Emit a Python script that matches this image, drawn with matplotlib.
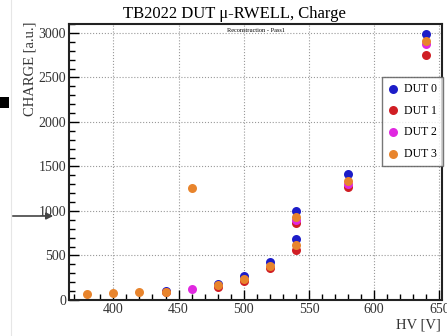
import matplotlib
matplotlib.use("Agg")
import matplotlib.pyplot as plt
from matplotlib.ticker import MultipleLocator
from matplotlib.patches import Rectangle

plt.rcParams['font.family'] = ['Liberation Serif', 'DejaVu Serif']

# Charge vs HV for each DUT
hv_dut0 = [440, 480, 500, 520, 540, 540, 580, 640]
q_dut0 = [105, 185, 265, 425, 1000, 680, 1420, 2985]
hv_dut1 = [440, 480, 500, 520, 540, 540, 580, 640]
q_dut1 = [90, 145, 215, 355, 870, 560, 1270, 2750]
hv_dut2 = [460, 540, 580, 640]
q_dut2 = [120, 900, 1300, 2880]
hv_dut3 = [380, 400, 420, 440, 460, 480, 500, 520, 540, 540, 580, 640]
q_dut3 = [70, 80, 85, 95, 1260, 165, 240, 385, 930, 620, 1340, 2910]

labels = ["DUT 0", "DUT 1", "DUT 2", "DUT 3"]
colors = ["#1c1cc8", "#d01e24", "#e028e0", "#e8842c"]
series = [(hv_dut0, q_dut0), (hv_dut1, q_dut1), (hv_dut2, q_dut2), (hv_dut3, q_dut3)]

fig = plt.figure(figsize=(4.47, 3.36), dpi=100)
ax = fig.add_axes([69/447, 36/336, (442-69)/447, (300-24)/336])

for (x, y), lab, c in zip(series, labels, colors):
    ax.scatter(x, y, s=42, color=c, label=lab, zorder=3, linewidths=0)

ax.set_xlim(366, 652)
ax.set_ylim(0, 3100)
ax.xaxis.set_major_locator(MultipleLocator(50))
ax.xaxis.set_minor_locator(MultipleLocator(10))
ax.yaxis.set_major_locator(MultipleLocator(500))
ax.yaxis.set_minor_locator(MultipleLocator(100))
ax.tick_params(which='both', direction='in', top=False, right=False, labelsize=10, pad=2,
               labelcolor='#333333')
ax.tick_params(which='major', length=7, width=1)
ax.tick_params(which='minor', length=4, width=1)
ax.grid(True, which='major', linestyle=':', color='#999999', linewidth=0.8)
for sp in ax.spines.values():
    sp.set_linewidth(1.5)
    sp.set_color('#222222')

fig.text(0.525, 0.957, "TB2022 DUT \u03bc-RWELL, Charge", ha='center', va='center', fontsize=12)
ax.text(0.5, 0.985, "Reconstruction - Pass1", transform=ax.transAxes, ha='center', va='top', fontsize=4.5)
fig.text(30/447, 1-22/336, "CHARGE [a.u.]", rotation=90, ha='center', va='top', fontsize=10.5,
         color='#333333')
fig.text(441/447, 1-325/336, "HV [V]", ha='right', va='center', fontsize=10.5, color='#333333')

leg = ax.legend(loc='upper right', bbox_to_anchor=(443/447, 1-77/336), bbox_transform=fig.transFigure,
                fontsize=8.5, frameon=True, fancybox=False, edgecolor='#555555',
                handletextpad=0.5, handlelength=0.9, borderpad=0.5, labelspacing=0.82,
                borderaxespad=0, scatterpoints=1)
leg.get_frame().set_linewidth(1.0)

# Marks at the left margin
fig.patches.append(Rectangle((0, 1-108/336), 9/447, 11/336, transform=fig.transFigure,
                             facecolor='black', edgecolor='none'))
fig.add_artist(plt.Line2D([11/447, 11/447], [0, 1], transform=fig.transFigure, color='#e6e6e6', linewidth=0.8))
ax.annotate("", xy=(56/447, 1-216/336), xytext=(10/447, 1-216/336), xycoords='figure fraction',
            textcoords='figure fraction',
            arrowprops=dict(arrowstyle='-|>', color='#444444', linewidth=1.2, mutation_scale=10))

fig.savefig("out.png", dpi=100)
